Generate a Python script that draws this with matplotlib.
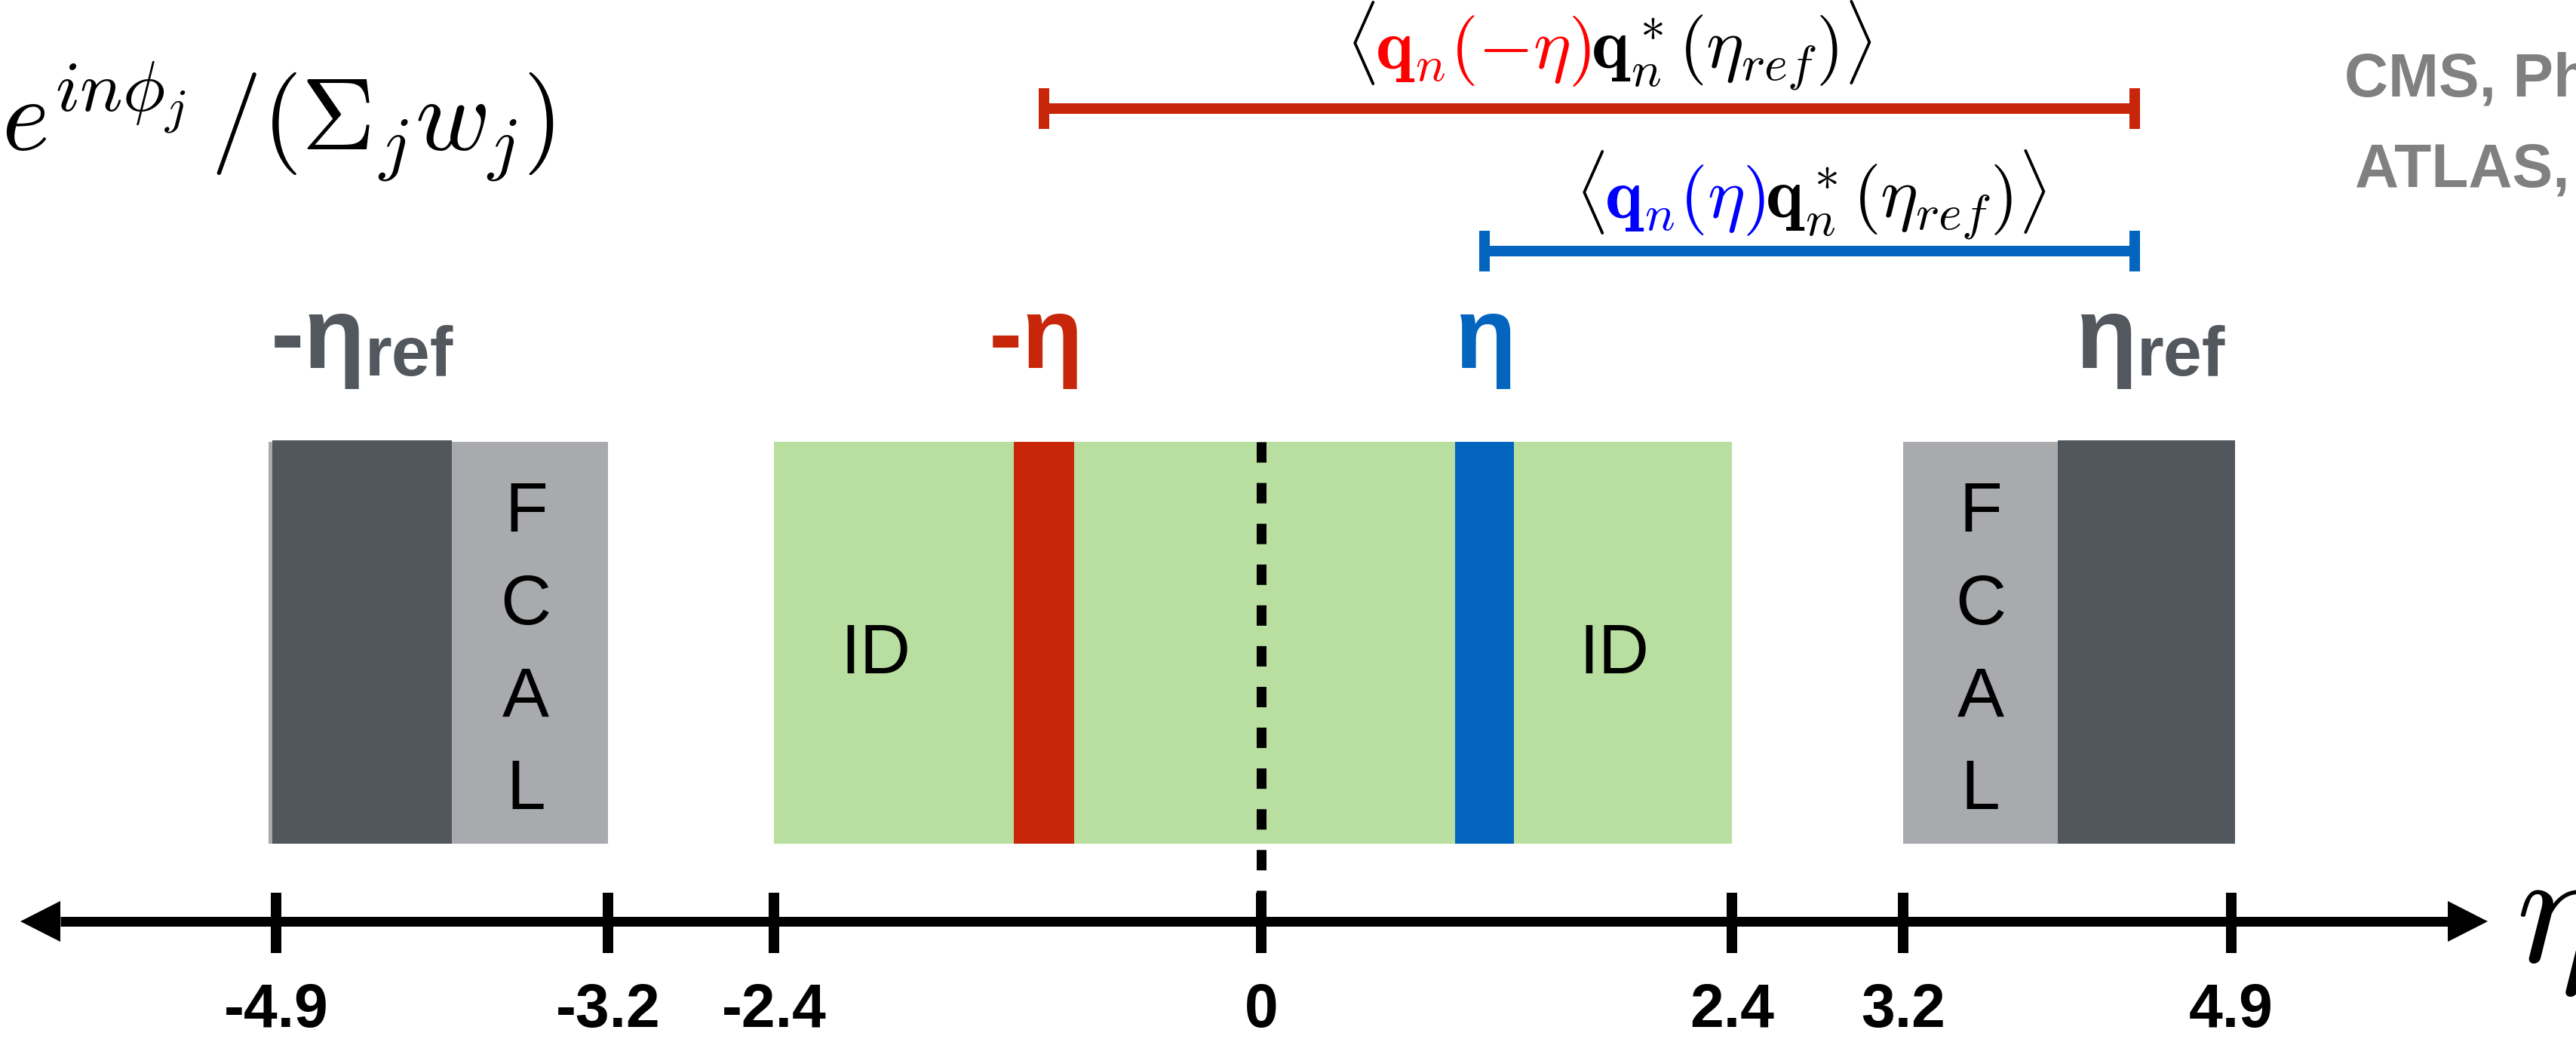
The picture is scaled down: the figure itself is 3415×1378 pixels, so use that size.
import matplotlib.pyplot as plt
import matplotlib.transforms as mtransforms
import numpy as np

plt.rcParams['font.family'] = ['Liberation Sans', 'DejaVu Sans']
plt.rcParams['mathtext.fontset'] = 'cm'

# eta values
tick_values = [-4.9, -3.2, -2.4, 0, 2.4, 3.2, 4.9]
tick_labels = ['-4.9', '-3.2', '-2.4', '0', '2.4', '3.2', '4.9']
id_range = (-2.4, 2.4)
fcal_ranges = [(-4.94, -3.2), (3.2, 4.92)]
ref_ranges = [(-4.92, -4.0), (4.0, 4.92)]
eta_slices = [-1.07, 1.14]    # centres of the -eta / eta slices
slice_width = 0.3
bar_end = 4.4                 # correlator bars end at eta_ref

# colours
dark = '#52575e'
light = '#a9aaad'
green = '#b8df9f'
red = '#c8260a'
blue = '#0465bf'
label_gray = '#53575e'
cite_gray = '#808080'

PT = 0.72   # points per pixel at dpi 100

# the sketch is not to scale: piecewise-linear eta -> pixel column
anchor_eta = [-6.313, -4.9, -3.2, -2.4, 0, 2.4, 3.2, 4.9, 6.69]
anchor_px = [0, 366, 806, 1026, 1672, 2296, 2523, 2958, 3416]


def fwd(x):
    return np.interp(x, anchor_eta, anchor_px)


def inv(p):
    return np.interp(p, anchor_px, anchor_eta)


fig = plt.figure(figsize=(34.16, 13.78), dpi=100)
ax = fig.add_axes([0, 0, 1, 1])
ax.set_xscale('function', functions=(fwd, inv))
ax.set_xlim(anchor_eta[0], anchor_eta[-1])
ax.set_ylim(1378, 0)   # y in pixels from the top
ax.axis('off')


def draw_pieces(x, y, pieces, center=True, **kw):
    # put several text pieces side by side on one baseline
    arts, shifts = [], []
    for s, props in pieces:
        props = dict(props)
        shifts.append((props.pop('dx', 0), props.pop('dy', 0)))
        arts.append(ax.text(x, y, s, ha='left', va='baseline', **kw, **props))
    r = fig.canvas.get_renderer()
    widths = [a.get_window_extent(r).width + sx for a, (sx, sy) in zip(arts, shifts)]
    off = -sum(widths) / 2 if center else 0
    for a, w, (sx, sy) in zip(arts, widths, shifts):
        a.set_transform(mtransforms.offset_copy(ax.transData, x=off + sx, y=sy, units='dots'))
        off += w


# detector blocks
top, bottom = 586, 1119
for lo, hi in fcal_ranges:
    ax.bar(lo, bottom - top, width=hi - lo, bottom=top, align='edge', color=light, lw=0)
for lo, hi in ref_ranges:
    ax.bar(lo, bottom - top + 2, width=hi - lo, bottom=top - 2, align='edge', color=dark, lw=0)
ax.bar(id_range[0], bottom - top, width=id_range[1] - id_range[0], bottom=top,
       align='edge', color=green, lw=0)
for c, col in zip(eta_slices, [red, blue]):
    ax.bar(c - slice_width / 2, bottom - top, width=slice_width, bottom=top,
           align='edge', color=col, lw=0)

# letters inside the blocks
for xc in [-3.62, 3.6]:
    for i, ch in enumerate('FCAL'):
        ax.text(xc, 705 + i * 122.7, ch, ha='center', va='baseline', fontsize=67)
for xc in [-1.9, 1.8]:
    ax.text(xc, 893, 'ID', ha='center', va='baseline', fontsize=67)

# eta = 0 dashed line
ax.plot([0, 0], [top, 1187], color='k', lw=13 * PT, linestyle=(0, (2.08, 2.08)),
        dash_capstyle='butt')

# eta axis with arrow heads
y_ax = 1222
tip_l, base_l, base_r, tip_r = inv([27, 80, 3245, 3298])
ax.plot([base_l, base_r], [y_ax, y_ax], color='k', lw=13 * PT, solid_capstyle='butt')
ax.fill([tip_l, base_l, base_l], [y_ax, y_ax - 27, y_ax + 27], color='k', lw=0)
ax.fill([tip_r, base_r, base_r], [y_ax, y_ax - 27, y_ax + 27], color='k', lw=0)
ax.vlines(tick_values, 1184, 1264, color='k', lw=14 * PT)
for v, lab in zip(tick_values, tick_labels):
    ax.text(v, 1362, lab, ha='center', va='baseline', fontsize=58, fontweight='bold')
ax.text(inv(3335), 1275, r'$\eta$', ha='left', va='baseline', fontsize=155)

# region labels
lab_kw = dict(fontsize=96, fontweight='bold')
sub_kw = dict(fontsize=66, fontweight='bold', dy=-10)
draw_pieces(-4.46, 488, [('-η', dict(color=label_gray, **lab_kw)),
                         ('ref', dict(color=label_gray, **sub_kw))])
draw_pieces(4.48, 488, [('η', dict(color=label_gray, **lab_kw)),
                        ('ref', dict(color=label_gray, **sub_kw))])
draw_pieces(eta_slices[0] - 0.04, 488, [('-η', dict(color=red, **lab_kw))])
draw_pieces(eta_slices[1], 488, [('η', dict(color=blue, **lab_kw))])

# correlator bars
for y0, start, col in [(144, eta_slices[0], red), (333, eta_slices[1], blue)]:
    ax.hlines(y0, start, bar_end, color=col, lw=14 * PT)
    ax.vlines([start, bar_end], y0 - 27, y0 + 27, color=col, lw=14 * PT)

fs = 68
draw_pieces(inv(2133), 91, [(r'$\langle$', dict(color='k')),
                            (r'$\mathbf{q}_n(-\eta)$', dict(color='red')),
                            (r'$\mathbf{q}_n^*(\eta_{ref})\rangle$', dict(color='k'))], fontsize=fs)
draw_pieces(inv(2400), 289, [(r'$\langle$', dict(color='k')),
                             (r'$\mathbf{q}_n(\eta)$', dict(color='blue')),
                             (r'$\mathbf{q}_n^*(\eta_{ref})\rangle$', dict(color='k'))], fontsize=fs)

# weight formula and references
ax.text(inv(2), 198, r'$e^{in\phi_j}\,/(\Sigma_j w_j)$', ha='left', va='baseline', fontsize=97)
ax.text(inv(3108), 128, 'CMS, Phys. Rev. C', ha='left', va='baseline', fontsize=58,
        fontweight='bold', color=cite_gray)
ax.text(inv(3122), 248, 'ATLAS, Eur. Phys. J. C', ha='left', va='baseline', fontsize=58,
        fontweight='bold', color=cite_gray)

fig.savefig('out.png', dpi=100)
